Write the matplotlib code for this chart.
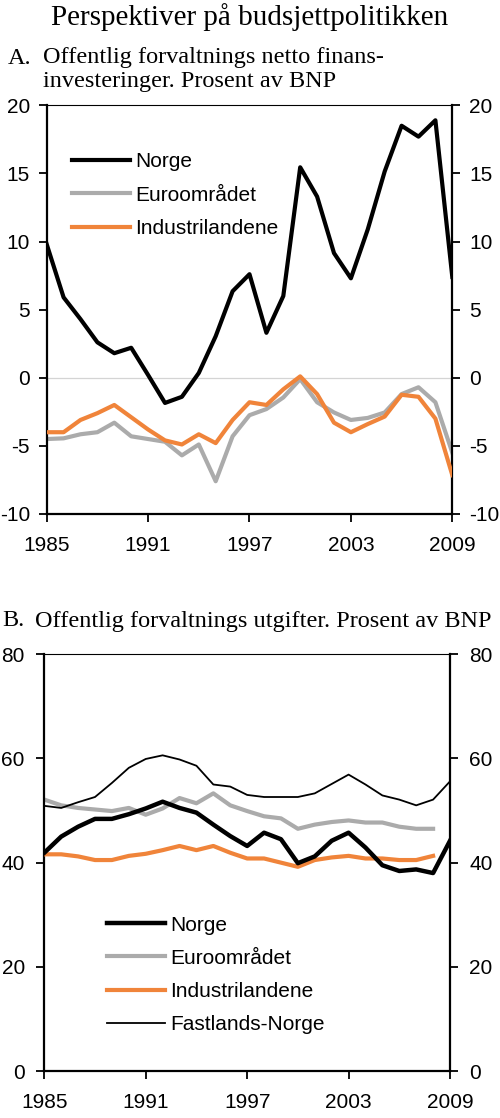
import numpy as np
import matplotlib
matplotlib.use("Agg")
import matplotlib.pyplot as plt

plt.rcParams['font.family'] = ['Liberation Sans', 'DejaVu Sans']
plt.rcParams['axes.unicode_minus'] = False

years = np.arange(1985, 2010)

# Panel A: netto finansinvesteringer, prosent av BNP
a_norge = [9.8, 5.9, 4.3, 2.6, 1.8, 2.2, 0.2, -1.85, -1.4, 0.35, 3.05, 6.35, 7.6, 3.3, 6.0,
           15.45, 13.3, 9.15, 7.3, 10.9, 15.15, 18.5, 17.7, 18.9, 7.4]
a_euro = [-4.5, -4.45, -4.15, -4.0, -3.3, -4.3, -4.5, -4.7, -5.7, -4.9, -7.6, -4.3, -2.75, -2.3,
          -1.45, -0.1, -1.8, -2.55, -3.1, -2.95, -2.55, -1.2, -0.7, -1.8, -5.5]
a_ind = [-4.0, -4.0, -3.1, -2.6, -2.0, -2.9, -3.8, -4.6, -4.9, -4.15, -4.8, -3.1, -1.8, -2.0,
         -0.85, 0.1, -1.2, -3.3, -4.0, -3.4, -2.85, -1.25, -1.4, -3.0, -7.15]

# Panel B: utgifter, prosent av BNP
b_norge = [41.9, 45.0, 46.9, 48.4, 48.4, 49.3, 50.4, 51.7, 50.5, 49.6, 47.3, 45.1, 43.2, 45.75,
           44.5, 39.9, 41.2, 44.2, 45.75, 42.9, 39.5, 38.4, 38.7, 38.0, 44.2]
b_euro = [52.1, 51.0, 50.5, 50.2, 49.9, 50.5, 49.2, 50.4, 52.4, 51.4, 53.3, 51.0, 49.9, 48.9,
          48.5, 46.5, 47.3, 47.8, 48.1, 47.7, 47.7, 46.9, 46.5, 46.5]
b_ind = [41.6, 41.6, 41.2, 40.5, 40.5, 41.3, 41.7, 42.4, 43.2, 42.4, 43.2, 41.9, 40.8, 40.8,
         40.0, 39.2, 40.5, 41.0, 41.3, 40.8, 40.8, 40.5, 40.5, 41.3]
b_fastland = [50.9, 50.5, 51.6, 52.6, 55.3, 58.2, 59.9, 60.6, 59.8, 58.6, 55.0, 54.6, 53.0, 52.6,
              52.6, 52.6, 53.3, 55.1, 56.9, 55.0, 52.9, 52.1, 51.0, 52.1, 55.6]

xticks = [1985, 1991, 1997, 2003, 2009]
orange = '#F0843A'
grey = '#ABABAB'

fig = plt.figure(figsize=(5.0, 11.18), dpi=100)


def style_axes(ax, ylim, yticks, ypad):
    ax.set_xlim(1985, 2009)
    ax.set_ylim(*ylim)
    ax.set_xticks(xticks)
    ax.set_yticks(yticks)
    for s in ['left', 'right', 'bottom']:
        ax.spines[s].set_linewidth(1.6)
        ax.spines[s].set_color('black')
    ax.spines['top'].set_linewidth(0.8)
    ax.tick_params(axis='y', left=True, right=True, labelleft=True, labelright=True,
                   direction='out', length=6, width=1.3, labelsize=15, pad=ypad)
    ax.tick_params(axis='x', direction='out', length=6, width=1.3, labelsize=15, pad=10)


leg_kw = dict(loc='upper left', frameon=False, fontsize=15, handlelength=2.75,
              handletextpad=0.25, labelspacing=0.68, borderaxespad=0)

# --- Panel A ---
axA = fig.add_axes([0.0934, 0.5403, 0.8112, 0.3655])
axA.axhline(0, color='#d4d4d4', lw=0.9, zorder=1)
axA.plot(years, a_norge, color='black', lw=3, label='Norge', zorder=4)
axA.plot(years, a_euro, color=grey, lw=3, label='Euroområdet', zorder=2)
axA.plot(years, a_ind, color=orange, lw=3, label='Industrilandene', zorder=3)
style_axes(axA, (-10, 20), [-10, -5, 0, 5, 10, 15, 20], 6)
axA.legend(bbox_to_anchor=(0.043, 0.905), **leg_kw)

# --- Panel B ---
axB = fig.add_axes([0.0886, 0.0420, 0.8114, 0.3728])
axB.plot(years, b_norge, color='black', lw=3.2, label='Norge', zorder=4)
axB.plot(years[:len(b_euro)], b_euro, color=grey, lw=3, label='Euroområdet', zorder=2)
axB.plot(years[:len(b_ind)], b_ind, color=orange, lw=3, label='Industrilandene', zorder=3)
axB.plot(years, b_fastland, color='black', lw=1.3, label='Fastlands-Norge', zorder=5)
style_axes(axB, (0, 80), [0, 20, 40, 60, 80], 8)
axB.legend(bbox_to_anchor=(0.135, 0.393), **leg_kw)

serif = ['Liberation Serif', 'DejaVu Serif']
fig.text(0.5, 1 - 17 / 1118, 'Perspektiver på budsjettpolitikken', ha='center', va='center',
         fontsize=21, family=serif)
fig.text(8 / 500, 1 - 58 / 1118, 'A.', ha='left', va='center', fontsize=17.5, family=serif)
fig.text(43 / 500, 1 - 58 / 1118, 'Offentlig forvaltnings netto finans-', ha='left',
         va='center', fontsize=17.5, family=serif)
fig.text(43 / 500, 1 - 81 / 1118, 'investeringer. Prosent av BNP', ha='left', va='center',
         fontsize=17.5, family=serif)
fig.text(2 / 500, 1 - 621 / 1118, 'B.', ha='left', va='center', fontsize=17.5, family=serif)
fig.text(35 / 500, 1 - 621 / 1118, 'Offentlig forvaltnings utgifter. Prosent av BNP', ha='left',
         va='center', fontsize=17.5, family=serif)

fig.savefig('out.png', dpi=100)
